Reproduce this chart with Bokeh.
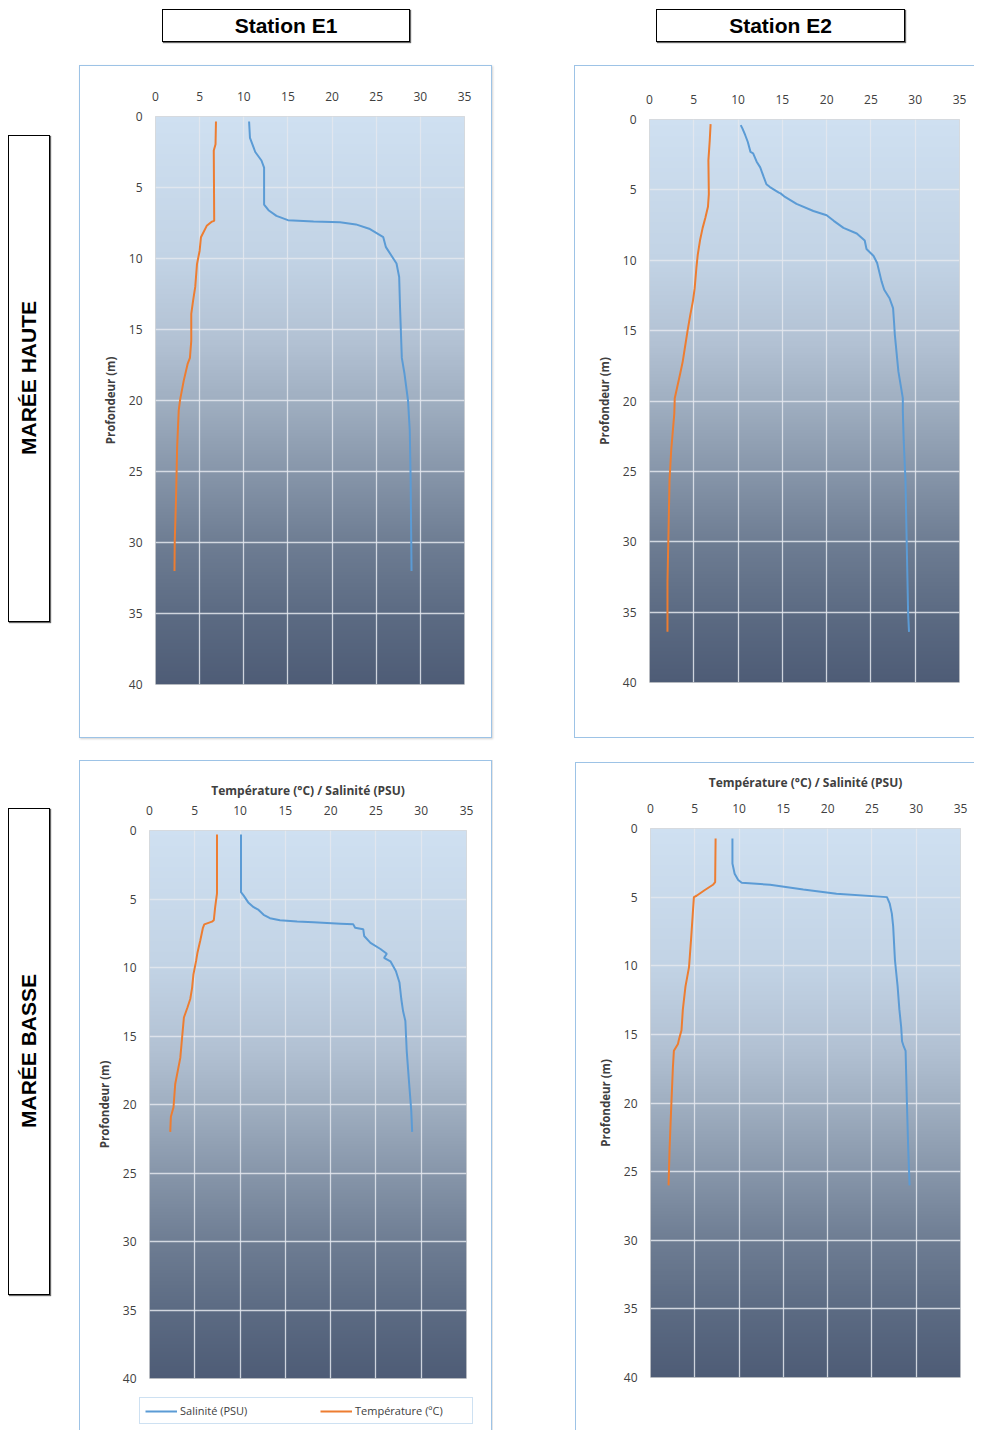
import numpy as np
from bokeh.plotting import figure
from bokeh.models import (Range1d, FixedTicker, Legend, LegendItem, Div, Spacer,
                          InlineStyleSheet, ColumnDataSource)
from bokeh.layouts import row, column
from bokeh.embed import file_html
from bokeh.resources import INLINE

# ---------------- data ----------------
x_ticks = [0, 5, 10, 15, 20, 25, 30, 35]
depth_ticks = [0, 5, 10, 15, 20, 25, 30, 35, 40]
stations = ["Station E1", "Station E2"]
tides = ["MARÉE HAUTE", "MARÉE BASSE"]
series_names = ["Salinité (PSU)", "Température (ºC)"]
x_title = "Température (°C) / Salinité (PSU)"
y_title = "Profondeur (m)"

# Station E1 - marée haute
e1_ht_sal_depth = [0.35, 1.5, 2.5, 3.1, 3.6, 6.2, 6.6, 7.0, 7.3, 7.4, 7.45, 7.6, 7.9, 8.5,
                   9.2, 10.35, 11.3, 13.45, 17.0, 18.1, 20.0, 22.1, 25.6, 32.0]
e1_ht_sal = [10.6, 10.7, 11.3, 12.0, 12.3, 12.3, 12.8, 13.7, 15.0, 17.9, 20.9, 22.7, 24.2, 25.8,
             26.1, 27.3, 27.6, 27.7, 27.9, 28.2, 28.6, 28.8, 28.9, 29.0]
e1_ht_tmp_depth = [0.35, 1.95, 2.4, 7.35, 7.4, 7.7, 8.5, 9.45, 10.4, 12.0, 13.0, 13.9, 15.8,
                   17.0, 17.4, 18.6, 19.9, 20.7, 23.3, 26.8, 29.9, 32.0]
e1_ht_tmp = [6.85, 6.8, 6.6, 6.65, 6.4, 5.8, 5.15, 5.0, 4.7, 4.5, 4.25, 4.05, 4.05,
             3.9, 3.65, 3.2, 2.8, 2.63, 2.45, 2.33, 2.18, 2.15]

# Station E2 - marée haute
e2_ht_sal_depth = [0.4, 0.65, 1.1, 1.6, 2.3, 2.4, 3.0, 3.4, 4.1, 4.6, 4.8, 5.2, 5.25, 5.5, 6.0,
                   6.5, 6.8, 7.2, 7.7, 8.1, 8.6, 9.2, 9.7, 10.2, 11.5, 12.1, 12.7, 13.4, 14.3,
                   15.3, 17.9, 19.8, 20.7, 22.8, 25.65, 30.4, 35.1, 36.4]
e2_ht_sal = [10.3, 10.5, 10.8, 11.1, 11.4, 11.7, 12.1, 12.5, 12.9, 13.2, 13.6, 14.6, 14.8, 15.3,
             16.6, 18.5, 20.0, 20.8, 21.9, 23.4, 24.3, 24.5, 25.3, 25.7, 26.2, 26.5, 27.1, 27.5,
             27.6, 27.7, 28.1, 28.6, 28.6, 28.7, 28.9, 29.05, 29.2, 29.3]
e2_ht_tmp_depth = [0.33, 1.5, 2.9, 5.3, 6.2, 7.0, 7.7, 8.6, 9.6, 10.5, 12.0, 12.9, 13.9, 15.0,
                   16.2, 17.2, 18.1, 19.1, 19.8, 20.9, 23.5, 25.65, 29.2, 32.8, 36.4]
e2_ht_tmp = [6.9, 6.8, 6.65, 6.7, 6.6, 6.3, 6.0, 5.7, 5.45, 5.3, 5.1, 4.9, 4.6, 4.3,
             4.0, 3.75, 3.45, 3.1, 2.85, 2.8, 2.45, 2.26, 2.15, 2.03, 2.03]

# Station E1 - marée basse
e1_mb_sal_depth = [0.3, 4.5, 4.75, 5.25, 5.6, 5.8, 6.15, 6.4, 6.55, 6.65, 6.7, 6.8, 6.85, 7.1,
                   7.2, 7.7, 8.2, 8.65, 9.0, 9.3, 9.55, 10.25, 11.1, 12.3, 13.2, 13.9, 16.1,
                   18.75, 20.45, 22.0]
e1_mb_sal = [10.1, 10.1, 10.4, 10.9, 11.5, 12.05, 12.6, 13.3, 14.4, 16.3, 18.1, 21.1, 22.5, 22.7,
             23.6, 23.7, 24.4, 25.5, 26.2, 25.9, 26.6, 27.2, 27.6, 27.8, 28.0, 28.25, 28.4,
             28.7, 28.9, 29.0]
e1_mb_tmp_depth = [0.3, 4.6, 5.6, 6.55, 6.65, 6.85, 7.1, 8.05, 8.9, 9.5, 10.5, 11.5, 12.3, 12.9,
                   13.65, 15.1, 16.6, 18.5, 20.2, 20.9, 22.0]
e1_mb_tmp = [7.45, 7.45, 7.25, 7.1, 6.9, 6.05, 5.9, 5.6, 5.3, 5.15, 4.85, 4.7, 4.5, 4.2,
             3.8, 3.6, 3.4, 2.84, 2.65, 2.36, 2.29]

# Station E2 - marée basse
e2_mb_sal_depth = [0.73, 2.55, 3.3, 3.75, 3.95, 4.1, 4.45, 4.75, 5.0, 5.45, 6.2, 7.15, 9.6,
                   11.5, 13.2, 14.45, 15.5, 15.9, 16.2, 20.0, 23.4, 26.0]
e2_mb_sal = [9.25, 9.25, 9.5, 9.9, 10.3, 13.5, 17.25, 21.0, 26.7, 27.0, 27.25, 27.4, 27.6,
             27.9, 28.1, 28.3, 28.4, 28.6, 28.8, 28.95, 29.1, 29.25]
e2_mb_tmp_depth = [0.73, 3.9, 4.1, 4.5, 4.9, 5.0, 5.95, 7.9, 10.1, 11.5, 13.2, 14.7, 15.4, 15.7,
                   16.2, 17.4, 20.3, 23.4, 26.0]
e2_mb_tmp = [7.35, 7.3, 7.05, 6.1, 5.2, 4.9, 4.8, 4.6, 4.35, 3.95, 3.65, 3.5, 3.2, 3.1,
             2.64, 2.53, 2.34, 2.15, 2.04]

# ---------------- styles ----------------
SAL_COLOR = "#5b9bd5"
TMP_COLOR = "#ed7d31"
TEXT_COLOR = "#404040"
PANEL_BORDER = "#9dc3e6"
GRAD_T = [0.0, 0.25, 0.4, 0.5, 0.625, 0.75, 0.875, 1.0]
GRAD_RGB = [(207, 224, 241), (194, 211, 229), (178, 193, 211), (160, 175, 193),
            (135, 150, 170), (110, 125, 147), (92, 107, 131), (78, 92, 118)]


def gradient_image(n=400):
    t = np.linspace(0, 1, n)
    img = np.empty((n, 2), dtype=np.uint32)
    view = img.view(dtype=np.uint8).reshape((n, 2, 4))
    for k in range(3):
        col = np.interp(t, GRAD_T, [c[k] for c in GRAD_RGB])
        view[:, :, k] = np.round(col)[:, None].astype(np.uint8)
    view[:, :, 3] = 255
    return img


def panel_css(top=True, right=True, bottom=True, left=True):
    css = (":host { position: relative; }\n"
           ":host::after { content: ''; position: absolute; left: 0; top: 0; right: 0; bottom: 0;"
           f" border: 1px solid {PANEL_BORDER}; pointer-events: none; z-index: 10;")
    if not top:
        css += " border-top: none;"
    if not right:
        css += " border-right: none;"
    if not bottom:
        css += " border-bottom: none;"
    if not left:
        css += " border-left: none;"
    if right and bottom:
        css += " box-shadow: 1px 1px 2px rgba(0,0,0,0.18);"
    elif right:
        css += " box-shadow: 1px 0 0 rgba(0,0,0,0.10);"
    css += " }"
    return InlineStyleSheet(css=css)


def make_panel(sal, sal_d, tmp, tmp_d, fw, fh, bl, br, bt, bb, title_standoff=None,
               right_border=True, bottom_border=True):
    x0, x1 = x_ticks[0], x_ticks[-1]
    y0, y1 = depth_ticks[0], depth_ticks[-1]
    p = figure(frame_width=fw, frame_height=fh,
               x_range=Range1d(x0, x1), y_range=Range1d(y1, y0),
               x_axis_location="above", output_backend="svg", toolbar_location=None,
               min_border_left=bl, min_border_right=br, min_border_top=bt, min_border_bottom=bb,
               background_fill_color="#a0b0c4", border_fill_color="white",
               outline_line_color="#d9d9d9", outline_line_width=1, margin=0,
               stylesheets=[panel_css(right=right_border, bottom=bottom_border)])
    p.image_rgba(image=[gradient_image()], x=x0, y=y0, dw=x1 - x0, dh=y1 - y0, level="image")
    for g in (p.xgrid[0], p.ygrid[0]):
        g.grid_line_color = "#e4e8ee"
        g.grid_line_alpha = 0.85
        g.grid_line_width = 1.3
    p.xgrid[0].ticker = FixedTicker(ticks=x_ticks)
    p.ygrid[0].ticker = FixedTicker(ticks=depth_ticks)

    xa = p.xaxis[0]
    ya = p.yaxis[0]
    xa.ticker = FixedTicker(ticks=x_ticks)
    ya.ticker = FixedTicker(ticks=depth_ticks)
    for a in (xa, ya):
        a.axis_line_color = None
        a.major_tick_line_color = None
        a.minor_tick_line_color = None
        a.major_tick_out = 0
        a.major_tick_in = 0
        a.major_label_text_font = "Open Sans"
        a.major_label_text_font_size = "12px"
        a.major_label_text_color = TEXT_COLOR
    xa.major_label_standoff = 16
    ya.major_label_standoff = 13
    ya.axis_label = y_title
    ya.axis_label_text_font = "Open Sans"
    ya.axis_label_text_font_style = "bold"
    ya.axis_label_text_font_size = "11.5px"
    ya.axis_label_text_color = TEXT_COLOR
    ya.axis_label_standoff = 8
    if title_standoff is not None:
        xa.axis_label = x_title
        xa.axis_label_text_font = "Open Sans"
        xa.axis_label_text_font_style = "bold"
        xa.axis_label_text_font_size = "12px"
        xa.axis_label_text_color = TEXT_COLOR
        xa.axis_label_standoff = title_standoff

    src_sal = ColumnDataSource(data=dict(x=sal, y=sal_d))
    src_tmp = ColumnDataSource(data=dict(x=tmp, y=tmp_d))
    p.line("x", "y", source=src_sal, line_color=SAL_COLOR, line_width=2)
    p.line("x", "y", source=src_tmp, line_color=TMP_COLOR, line_width=2)
    return p, src_sal, src_tmp


def make_legend_strip(w, h, box_left, box_bottom, src_sal, src_tmp):
    # strip below the E1 / marée basse panel carrying the shared legend;
    # its line renderers reuse the panel's sources but lie outside this strip's ranges
    p = figure(frame_width=w, frame_height=h, x_range=Range1d(-2, -1), y_range=Range1d(-2, -1),
               x_axis_location=None, y_axis_location=None, toolbar_location=None,
               output_backend="svg", min_border=0, outline_line_color=None,
               background_fill_color="white", border_fill_color="white", margin=0,
               stylesheets=[panel_css(top=False, bottom=False)])
    p.grid.visible = False
    r_sal = p.line("x", "y", source=src_sal, line_color=SAL_COLOR, line_width=2)
    r_tmp = p.line("x", "y", source=src_tmp, line_color=TMP_COLOR, line_width=2)
    lg = Legend(items=[LegendItem(label=series_names[0], renderers=[r_sal]),
                       LegendItem(label=series_names[1], renderers=[r_tmp])],
                orientation="horizontal", location=(box_left, box_bottom),
                label_text_font="Open Sans", label_text_font_size="11px",
                label_text_color=TEXT_COLOR, glyph_width=32, glyph_height=12,
                label_height=14, label_width=112, label_standoff=3, spacing=28,
                padding=5, margin=0, border_line_color=PANEL_BORDER,
                border_line_width=1.5, background_fill_color="white",
                background_fill_alpha=1.0)
    p.add_layout(lg)
    return p


def header_html():
    box = ("position:absolute;top:1px;height:33px;box-sizing:border-box;border:1px solid #000;"
           "box-shadow:1px 1px 1px #666;display:flex;align-items:center;justify-content:center;"
           "font-family:'Liberation Sans',Arial,sans-serif;font-weight:bold;font-size:21px;color:#000;")
    return ('<div style="position:relative;width:974px;height:52px;">'
            f'<div style="{box}left:154px;width:248px;">{stations[0]}</div>'
            f'<div style="{box}left:648px;width:249px;">{stations[1]}</div>'
            '</div>')


def label_html(text, top, total_h):
    return (f'<div style="position:relative;width:71px;height:{total_h}px;">'
            f'<div style="position:absolute;left:0;top:{top}px;width:42px;height:487px;'
            'box-sizing:border-box;border:1px solid #000;box-shadow:1px 1px 1px #666;'
            'display:flex;align-items:center;justify-content:center;">'
            '<span style="writing-mode:vertical-rl;transform:rotate(180deg);white-space:nowrap;'
            "font-family:'Liberation Sans',Arial,sans-serif;font-weight:bold;font-size:21px;color:#000;\">"
            f'{text}</span></div></div>')


# canvas sizes: fig1 413x673, fig2 400x673, fig3 413x628 (+ legend strip 413x42), fig4 399x668
fig1, _, _ = make_panel(e1_ht_sal, e1_ht_sal_depth, e1_ht_tmp, e1_ht_tmp_depth,
                        309, 568, 76, 28, 51, 54)
fig2, _, _ = make_panel(e2_ht_sal, e2_ht_sal_depth, e2_ht_tmp, e2_ht_tmp_depth,
                        310, 563, 75, 15, 54, 56, right_border=False)
fig3, s3_sal, s3_tmp = make_panel(e1_mb_sal, e1_mb_sal_depth, e1_mb_tmp, e1_mb_tmp_depth,
                                  317, 548, 70, 26, 70, 10, title_standoff=4,
                                  bottom_border=False)
leg = make_legend_strip(413, 42, 60, 6, s3_sal, s3_tmp)
fig4, _, _ = make_panel(e2_mb_sal, e2_mb_sal_depth, e2_mb_tmp, e2_mb_tmp_depth,
                        310, 549, 75, 14, 66, 53, title_standoff=10, right_border=False,
                        bottom_border=False)

header = Div(text=header_html(), width=974, height=52, margin=0)
lab1 = Div(text=label_html(tides[0], 75, 688), width=71, height=688, margin=0)
lab2 = Div(text=label_html(tides[1], 60, 682), width=71, height=682, margin=0)

row1 = row(lab1,
           column(Spacer(width=413, height=5, margin=0), fig1, Spacer(width=413, height=10, margin=0), spacing=0),
           Spacer(width=82, height=688, margin=0),
           column(Spacer(width=400, height=5, margin=0), fig2, Spacer(width=400, height=10, margin=0), spacing=0),
           spacing=0)
row2 = row(lab2,
           column(Spacer(width=413, height=12, margin=0), fig3, leg, spacing=0),
           Spacer(width=83, height=682, margin=0),
           column(Spacer(width=399, height=14, margin=0), fig4, spacing=0),
           spacing=0)
inner = column(header, row1, row2, spacing=0)
root = column(Spacer(width=974, height=8, margin=0),
              row(Spacer(width=8, height=1422, margin=0), inner, spacing=0),
              spacing=0)

open("out.html", "w").write(file_html(root, INLINE, title="Profils T/S"))
